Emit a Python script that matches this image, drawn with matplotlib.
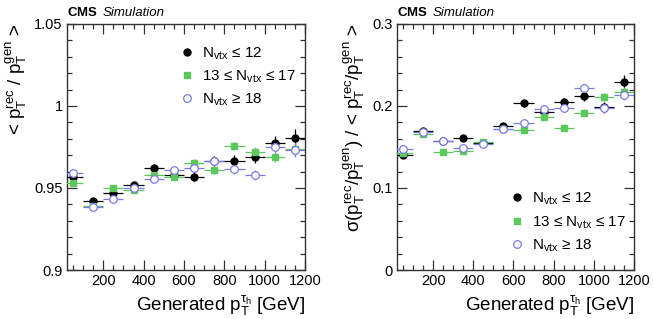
"""
CMS tau_h pT response and resolution vs generated pT, in bins of N_vtx.
"""

import numpy as np
import matplotlib
matplotlib.use("Agg")
import matplotlib.pyplot as plt
from matplotlib.ticker import MultipleLocator, FuncFormatter

plt.rcParams["font.family"] = ["Liberation Sans", "DejaVu Sans"]
plt.rcParams["mathtext.fontset"] = "custom"
plt.rcParams["mathtext.rm"] = "Liberation Sans"
plt.rcParams["mathtext.it"] = "Liberation Sans"
plt.rcParams["mathtext.bf"] = "Liberation Sans:bold"


# ── DATA ──────────────────────────────────────────────────────────────────────
pt_centers = [50, 150, 250, 350, 450, 550, 650, 750, 850, 950, 1050, 1150]
pt_halfwid = [50] * 12

labels = [r"N$_{\mathrm{vtx}}$ ≤ 12",
          r"13 ≤ N$_{\mathrm{vtx}}$ ≤ 17",
          r"N$_{\mathrm{vtx}}$ ≥ 18"]

# response <pT rec / pT gen>
resp_low  = [0.9567, 0.9421, 0.9468, 0.9518, 0.9624, 0.9580, 0.9569, 0.9665, 0.9667, 0.9691, 0.9773, 0.9803]
resp_mid  = [0.9530, 0.9390, 0.9502, 0.9488, 0.9580, 0.9569, 0.9654, 0.9610, 0.9758, 0.9718, 0.9691, 0.9736]
resp_high = [0.9590, 0.9382, 0.9431, 0.9498, 0.9555, 0.9610, 0.9624, 0.9665, 0.9614, 0.9579, 0.9748, 0.9732]
resp_low_err  = [0.0015, 0.0015, 0.0015, 0.0015, 0.0020, 0.0020, 0.0025, 0.0030, 0.0035, 0.0040, 0.0045, 0.0055]
resp_mid_err  = [0.0012, 0.0012, 0.0012, 0.0012, 0.0015, 0.0018, 0.0020, 0.0022, 0.0025, 0.0030, 0.0035, 0.0040]
resp_high_err = [0.0015, 0.0015, 0.0015, 0.0015, 0.0018, 0.0020, 0.0022, 0.0025, 0.0030, 0.0030, 0.0035, 0.0040]

# resolution sigma / <pT rec / pT gen>
reso_low  = [0.1400, 0.1699, 0.1573, 0.1606, 0.1550, 0.1760, 0.2033, 0.1930, 0.2053, 0.2126, 0.1984, 0.2289]
reso_mid  = [0.1423, 0.1659, 0.1435, 0.1451, 0.1560, 0.1720, 0.1707, 0.1870, 0.1736, 0.1919, 0.2114, 0.2167]
reso_high = [0.1472, 0.1687, 0.1570, 0.1484, 0.1533, 0.1715, 0.1797, 0.1960, 0.1972, 0.2215, 0.1980, 0.2134]
reso_low_err  = [0.0020, 0.0020, 0.0020, 0.0020, 0.0025, 0.0030, 0.0040, 0.0045, 0.0050, 0.0060, 0.0065, 0.0090]
reso_mid_err  = [0.0015, 0.0015, 0.0015, 0.0015, 0.0020, 0.0025, 0.0030, 0.0035, 0.0040, 0.0045, 0.0050, 0.0060]
reso_high_err = [0.0018, 0.0018, 0.0018, 0.0018, 0.0022, 0.0028, 0.0032, 0.0038, 0.0045, 0.0050, 0.0055, 0.0065]


# ── STYLE ─────────────────────────────────────────────────────────────────────
GREEN = "#5cc85c"
BLUE = "#7b7be6"
styles = [
    dict(fmt="o", color="black", mfc="black", mec="black", ms=5),
    dict(fmt="s", color=GREEN, mfc=GREEN, mec=GREEN, ms=4.5),
    dict(fmt="o", color=BLUE, mfc="white", mec=BLUE, ms=5.5, mew=0.9),
]


def fmt_tick(v, pos):
    s = f"{v:.2f}".rstrip("0").rstrip(".")
    return s


def style_axes(ax, ymaj, ymin):
    ax.set_xlim(20, 1200)
    ax.xaxis.set_major_locator(MultipleLocator(200))
    ax.xaxis.set_minor_locator(MultipleLocator(50))
    ax.yaxis.set_major_locator(MultipleLocator(ymaj))
    ax.yaxis.set_minor_locator(MultipleLocator(ymin))
    ax.yaxis.set_major_formatter(FuncFormatter(fmt_tick))
    ax.tick_params(which="both", direction="in", top=True, right=True,
                   labelsize=10.5, color="#333333", width=0.9)
    ax.tick_params(which="major", length=7, pad=3)
    ax.tick_params(which="minor", length=3.5)
    for sp in ax.spines.values():
        sp.set_linewidth(1.0)
        sp.set_color("#333333")
    ax.set_xlabel(r"Generated p$_{\mathrm{T}}^{\tau_{\mathrm{h}}}$ [GeV]",
                  fontsize=13.5, loc="right", labelpad=4)
    ax.text(0.0, 1.02, r"$\mathbf{CMS}$", transform=ax.transAxes,
            fontsize=9.5, fontweight="bold", ha="left", va="bottom")
    ax.text(0.15, 1.02, "Simulation", transform=ax.transAxes,
            fontsize=9.5, style="italic", ha="left", va="bottom")


def draw(ax, series, errs):
    handles = []
    for y, e, st in zip(series, errs, styles):
        h = ax.errorbar(pt_centers, y, xerr=pt_halfwid, yerr=e,
                        elinewidth=0.9, capsize=0, zorder=3, **st)
        handles.append(h)
    return handles


fig = plt.figure(figsize=(6.54, 3.19), dpi=100)
ax1 = fig.add_axes([0.1024, 0.1536, 0.3640, 0.7712])
ax2 = fig.add_axes([0.6070, 0.1536, 0.3624, 0.7712])

# ── LEFT: response ───────────────────────────────────────────────────────────
h1 = draw(ax1, [resp_low, resp_mid, resp_high],
          [resp_low_err, resp_mid_err, resp_high_err])
ax1.set_ylim(0.9, 1.05)
style_axes(ax1, 0.05, 0.01)
ax1.set_ylabel(r"< p$_{\mathrm{T}}^{\mathrm{rec}}$ / p$_{\mathrm{T}}^{\mathrm{gen}}$ >",
               fontsize=13.5, loc="top", labelpad=4)
leg1 = ax1.legend([h[0] for h in h1], labels, loc="upper left",
                  bbox_to_anchor=(0.41, 0.97), frameon=False, fontsize=11,
                  handlelength=1.2, handletextpad=0.35, labelspacing=0.45)

# ── RIGHT: resolution ────────────────────────────────────────────────────────
h2 = draw(ax2, [reso_low, reso_mid, reso_high],
          [reso_low_err, reso_mid_err, reso_high_err])
ax2.set_ylim(0, 0.3)
style_axes(ax2, 0.1, 0.02)
ax2.set_ylabel(r"σ(p$_{\mathrm{T}}^{\mathrm{rec}}$/p$_{\mathrm{T}}^{\mathrm{gen}}$) / < p$_{\mathrm{T}}^{\mathrm{rec}}$/p$_{\mathrm{T}}^{\mathrm{gen}}$ >",
               fontsize=13.5, loc="top", labelpad=4)
leg2 = ax2.legend([h[0] for h in h2], labels, loc="lower left",
                  bbox_to_anchor=(0.41, 0.01), frameon=False, fontsize=11,
                  handlelength=1.2, handletextpad=0.35, labelspacing=0.45)

plt.savefig("out.png", dpi=100)
